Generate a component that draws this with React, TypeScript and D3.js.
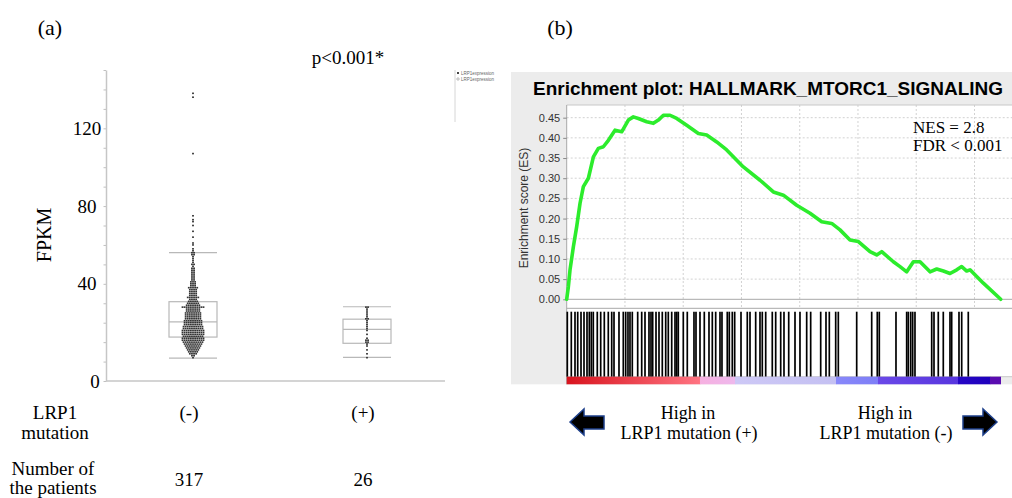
import React, { useEffect, useRef } from 'react';
import * as d3 from 'd3';

// ---- panel (a): FPKM by LRP1 mutation status
const groups = ['(-)', '(+)'];
const patients = [317, 26];
const boxQ1 = [12.6, 9.4];
const boxMedian = [20.4, 16.6];
const boxQ3 = [30.8, 21.8];
const whiskerLow = [1.8, 2.2];
const whiskerHigh = [56, 28.2];

// (-) group, FPKM level -> number of patients at that level
const negLevels = [
  2, 3, 4, 5, 6, 7, 8, 9, 10, 11, 12,
  13, 14, 15, 16, 17, 18, 19, 20,
  21, 22, 23, 24, 25, 26, 27, 28, 29, 30,
  31, 32, 33, 34, 35, 36, 37, 38, 39, 40, 41, 42, 43, 44, 45, 46, 47, 48, 49, 50, 51, 52, 53, 54, 55, 56,
];
const negCounts = [
  1, 2, 4, 5, 6, 7, 8, 9, 10, 11, 11,
  10, 11, 11, 11, 10, 10, 9, 9,
  9, 8, 8, 8, 8, 7, 7, 11, 7, 6,
  5, 4, 6, 4, 4, 4, 4, 5, 3, 3, 3, 2, 2, 2, 2, 2, 2, 2, 1, 2, 1, 1, 1, 1, 2, 2,
];
const negOutliers = [57, 58, 60, 61, 64, 67, 70, 72, 73, 75, 107, 136, 138];
// (+) group, 26 patients
const posValues = [28, 28, 27, 26, 25, 24, 23, 22, 22, 21, 20, 19, 18, 17, 16, 14, 12, 11, 11, 10, 10, 9, 8, 6, 4, 2];
const fpkmLabels = [40, 80, 120];

// ---- panel (b): GSEA enrichment plot
const esRanks = [0, 57, 114, 229, 343, 458, 572, 744, 916, 1087, 1259, 1431, 1659, 1888, 2117, 2289, 2460, 2747, 2975, 3147,
  3319, 3548, 3777, 4120, 4520, 4806, 5150, 5493, 6065, 6638, 7095, 7439, 7896, 8354, 8755, 9098, 9384, 9727, 10014, 10414,
  10643, 10815, 11215, 11444, 11673, 11902, 12131, 12474, 12703, 12932, 13161, 13390, 13561, 13733, 13847, 14305, 14900];
const esScores = [0, 0.031, 0.073, 0.13, 0.18, 0.238, 0.279, 0.30, 0.353, 0.374, 0.378, 0.394, 0.419, 0.415, 0.444, 0.452, 0.448, 0.44, 0.436, 0.444,
  0.456, 0.456, 0.448, 0.431, 0.411, 0.407, 0.39, 0.37, 0.328, 0.295, 0.266, 0.258, 0.233, 0.213, 0.192, 0.188, 0.172, 0.147, 0.143, 0.118,
  0.11, 0.118, 0.093, 0.081, 0.068, 0.093, 0.093, 0.068, 0.075, 0.07, 0.064, 0.073, 0.081, 0.07, 0.073, 0.04, 0];
const hitRanks = [21, 158, 285, 378, 491, 594, 697, 776, 845, 913, 1050, 1167, 1291, 1428, 1545, 1624, 1795, 1943, 2025, 2104,
  2173, 2252, 2437, 2575, 2688, 2825, 2894, 2952, 3066, 3169, 3282, 3399, 3488, 3605, 3718, 3776, 3831, 4003, 4140, 4370,
  4439, 4576, 4724, 4885, 4999, 5115, 5263, 5331, 5513, 5582, 5685, 5767, 5984, 6200, 6293, 6488, 6636, 6715, 6832, 7058,
  7175, 7347, 7460, 7622, 7838, 8009, 8239, 8376, 8720, 8902, 9016, 9235, 9325, 9956, 10471, 10663, 10732, 11305, 11672, 11728,
  11810, 11878, 11957, 12531, 12610, 12757, 12929, 13159, 13217, 13468, 13561, 13787];
const esTicks = [0, 0.05, 0.1, 0.15, 0.2, 0.25, 0.3, 0.35, 0.4, 0.45];
const rankGrid = [2000, 4000, 6000, 8000, 10000, 12000, 14000];
const rankMax = 14900;
// ranked-list colour bar segments
const barStart = [0, 4576, 5778, 9245, 10687, 13434, 14533];
const barEnd = [4576, 5778, 9245, 10687, 13434, 14533, 14900];
const barFrom = ['#d8141e', '#f6b0e0', '#cdc8f6', '#8888fa', '#6a48e8', '#2606c6', '#5a0cb0'];
const barTo = ['#ff7482', '#eeb8ec', '#c4c0f2', '#7e7ef6', '#5836de', '#1e00bc', '#5a0cb0'];

const W = 1012;
const H = 498;
const serif = '"Liberation Serif", "Times New Roman", serif';
const sans = '"Liberation Sans", Arial, sans-serif';

const App = () => {
  const svgRef = useRef<SVGSVGElement>(null);

  useEffect(() => {
    const svg = d3.select(svgRef.current);
    svg.selectAll('*').remove();

    svg.append('rect').attr('width', W).attr('height', H).attr('fill', 'white');

    // ================= panel (a) =================
    const yA = d3.scaleLinear().domain([-10, 150]).range([381, 70]);
    const xA = d3.scaleBand().domain(groups).range([106, 454]);
    const cx = (g: string) => (xA(g) as number) + xA.bandwidth() / 2;

    svg.append('text').attr('x', 50).attr('y', 35).attr('text-anchor', 'middle')
      .attr('font-family', serif).attr('font-size', 22).text('(a)');

    const ax = svg.append('g').attr('transform', 'translate(106,0)')
      .call(d3.axisLeft(yA).tickValues(d3.range(-10, 151, 10)).tickSize(2.5).tickSizeOuter(0).tickFormat(() => ''));
    ax.select('.domain').attr('stroke', '#c6c6c6').attr('stroke-width', 1.5);
    ax.selectAll('.tick line').attr('stroke', '#c0c0c0');

    svg.append('line').attr('x1', 106).attr('x2', 445).attr('y1', yA(-10)).attr('y2', yA(-10))
      .attr('stroke', '#c6c6c6').attr('stroke-width', 1.5);

    svg.selectAll('.ylab').data(fpkmLabels).enter().append('text')
      .attr('x', 87).attr('y', d => yA(d) + 6.5).attr('text-anchor', 'middle')
      .attr('font-family', serif).attr('font-size', 19).text(d => d);
    svg.append('text').attr('x', 95).attr('y', yA(-10) + 6.5).attr('text-anchor', 'middle')
      .attr('font-family', serif).attr('font-size', 19).text('0');

    svg.append('text').attr('transform', 'translate(51,235) rotate(-90)').attr('text-anchor', 'middle')
      .attr('font-family', serif).attr('font-size', 20).text('FPKM');

    svg.append('text').attr('x', 348).attr('y', 64).attr('text-anchor', 'middle')
      .attr('font-family', serif).attr('font-size', 19).text('p<0.001*');

    // boxes
    const boxW = 48;
    groups.forEach((g, i) => {
      const c = cx(g);
      const gb = svg.append('g').attr('stroke', '#b8b8b8').attr('stroke-width', 1.2).attr('fill', 'none');
      gb.append('rect').attr('x', c - boxW / 2).attr('y', yA(boxQ3[i]))
        .attr('width', boxW).attr('height', yA(boxQ1[i]) - yA(boxQ3[i]));
      [boxMedian[i], whiskerLow[i], whiskerHigh[i]].forEach(v => {
        gb.append('line').attr('x1', c - boxW / 2).attr('x2', c + boxW / 2).attr('y1', yA(v)).attr('y2', yA(v));
      });
    });

    // dot swarm
    const negValues: number[] = [];
    negLevels.forEach((v, i) => { for (let k = 0; k < negCounts[i]; k++) negValues.push(v); });
    negOutliers.forEach(v => negValues.push(v));
    const swarm = (vals: number[], g: string) => {
      const rows = d3.rollups(vals, v => v.length, v => v);
      const pts: { x: number; y: number }[] = [];
      rows.forEach(([v, n]) => {
        for (let k = 0; k < n; k++) pts.push({ x: cx(g) + (k - (n - 1) / 2) * 2.1, y: yA(v) });
      });
      return pts;
    };
    const dots = [...swarm(negValues, groups[0]), ...swarm(posValues, groups[1])];
    svg.append('g').selectAll('rect').data(dots).enter().append('rect')
      .attr('x', d => d.x - 0.9).attr('y', d => d.y - 0.8).attr('width', 1.8).attr('height', 1.6)
      .attr('fill', '#333');

    // tiny legend
    svg.append('line').attr('x1', 455).attr('x2', 455).attr('y1', 70).attr('y2', 122)
      .attr('stroke', '#d6d6d6').attr('stroke-width', 1);
    svg.append('rect').attr('x', 457).attr('y', 72).attr('width', 2).attr('height', 2).attr('fill', '#444');
    svg.append('circle').attr('cx', 458).attr('cy', 79).attr('r', 1.2).attr('fill', 'none').attr('stroke', '#777').attr('stroke-width', 0.5);
    ['LRP1expression', 'LRP1expression'].forEach((t, i) => {
      svg.append('text').attr('x', 461).attr('y', 75 + i * 6).attr('font-family', sans)
        .attr('font-size', 4.5).attr('fill', '#666').text(t);
    });

    // category table
    const tbl = svg.append('g').attr('font-family', serif).attr('font-size', 19).attr('text-anchor', 'middle');
    tbl.append('text').attr('x', 55).attr('y', 419).text('LRP1');
    tbl.append('text').attr('x', 55).attr('y', 439).text('mutation');
    tbl.append('text').attr('x', 53).attr('y', 475).text('Number of');
    tbl.append('text').attr('x', 53).attr('y', 494).text('the patients');
    groups.forEach((g, i) => {
      tbl.append('text').attr('x', cx(g) - 4).attr('y', 419).text(g);
      tbl.append('text').attr('x', cx(g) - 4).attr('y', 486).text(patients[i]);
    });

    // ================= panel (b) =================
    svg.append('text').attr('x', 560).attr('y', 35).attr('text-anchor', 'middle')
      .attr('font-family', serif).attr('font-size', 22).text('(b)');

    const left = 566.7;
    const top = 105;
    const esBottom = 308.3;
    const hitTop = 311.7;
    const hitBottom = 376.7;
    const barBottom = 384.3;

    svg.append('rect').attr('x', 511).attr('y', 72).attr('width', W - 511).attr('height', barBottom - 72).attr('fill', '#ececec');
    svg.append('rect').attr('x', left).attr('y', top).attr('width', W - left).attr('height', hitBottom - top).attr('fill', 'white');

    svg.append('text').attr('x', 533).attr('y', 95).attr('font-family', sans).attr('font-weight', 'bold')
      .attr('font-size', 18).attr('textLength', 470).attr('lengthAdjust', 'spacingAndGlyphs')
      .text('Enrichment plot: HALLMARK_MTORC1_SIGNALING');

    const xB = d3.scaleLinear().domain([0, rankMax]).range([left, 1000.7]);
    const yB = d3.scaleLinear().domain([-0.0223, 0.4814]).range([esBottom, top]);

    // grid
    const grid = svg.append('g').attr('stroke', '#d2d2d2').attr('stroke-width', 1).attr('stroke-dasharray', '2,2');
    esTicks.filter(t => t > 0).forEach(t => {
      grid.append('line').attr('x1', left).attr('x2', W).attr('y1', yB(t)).attr('y2', yB(t));
    });
    rankGrid.forEach(r => {
      grid.append('line').attr('x1', xB(r)).attr('x2', xB(r)).attr('y1', top).attr('y2', esBottom);
    });

    const frame = svg.append('g').attr('stroke', '#a8a8a8').attr('stroke-width', 1);
    frame.append('line').attr('x1', left).attr('x2', W).attr('y1', top).attr('y2', top).attr('stroke', '#c8c8c8');
    frame.append('line').attr('x1', left).attr('x2', W).attr('y1', yB(0)).attr('y2', yB(0));
    frame.append('line').attr('x1', left).attr('x2', W).attr('y1', esBottom).attr('y2', esBottom);
    frame.append('line').attr('x1', left).attr('x2', W).attr('y1', hitBottom).attr('y2', hitBottom).attr('stroke', '#c8c8c8');
    frame.append('line').attr('x1', left).attr('x2', left).attr('y1', top).attr('y2', barBottom);

    const ay = svg.append('g').attr('transform', `translate(${left},0)`)
      .call(d3.axisLeft(yB).tickValues(esTicks).tickFormat(d3.format('.2f')).tickSize(3.5).tickPadding(3));
    ay.select('.domain').remove();
    ay.selectAll('.tick line').attr('stroke', '#888');
    ay.selectAll('.tick text').attr('font-family', sans).attr('font-size', 11).attr('fill', '#333');

    svg.append('text').attr('transform', 'translate(528,208) rotate(-90)').attr('text-anchor', 'middle')
      .attr('font-family', sans).attr('font-size', 12).attr('fill', '#333').text('Enrichment score (ES)');

    // running ES curve
    const line = d3.line<number>().x((_, i) => xB(esRanks[i])).y(d => yB(d));
    svg.append('path').datum(esScores).attr('d', line).attr('fill', 'none')
      .attr('stroke', '#2cec2c').attr('stroke-width', 3.6).attr('stroke-linejoin', 'round').attr('stroke-linecap', 'round');

    svg.append('text').attr('x', 913).attr('y', 133).attr('font-family', serif).attr('font-size', 17).text('NES = 2.8');
    svg.append('text').attr('x', 913).attr('y', 151).attr('font-family', serif).attr('font-size', 17).text('FDR < 0.001');

    // hits
    svg.append('g').selectAll('line').data(hitRanks).enter().append('line')
      .attr('x1', d => xB(d)).attr('x2', d => xB(d)).attr('y1', hitTop).attr('y2', hitBottom)
      .attr('stroke', '#000').attr('stroke-width', 1.7);

    // ranked list colour bar
    const defs = svg.append('defs');
    barStart.forEach((s, i) => {
      const gid = `seg${i}`;
      const lg = defs.append('linearGradient').attr('id', gid);
      lg.append('stop').attr('offset', '0%').attr('stop-color', barFrom[i]);
      lg.append('stop').attr('offset', '100%').attr('stop-color', barTo[i]);
      svg.append('rect').attr('x', xB(s)).attr('y', hitBottom).attr('width', xB(barEnd[i]) - xB(s) + 0.3)
        .attr('height', barBottom - hitBottom).attr('fill', `url(#${gid})`);
    });

    // arrows + captions
    const arrowL = [[570, 422], [584, 409], [584, 416], [604, 416], [604, 429], [584, 429], [584, 435]];
    const arrowR = arrowL.map(([x, y]) => [1567 - x, y]);
    [arrowL, arrowR].forEach(p => {
      svg.append('polygon').attr('points', p.map(q => q.join(',')).join(' '))
        .attr('fill', '#000').attr('stroke', '#1d3f8a').attr('stroke-width', 1.5).attr('stroke-linejoin', 'miter');
    });
    const cap = svg.append('g').attr('font-family', serif).attr('font-size', 18).attr('text-anchor', 'middle');
    cap.append('text').attr('x', 688).attr('y', 419).text('High in');
    cap.append('text').attr('x', 689).attr('y', 439).text('LRP1 mutation (+)');
    cap.append('text').attr('x', 885).attr('y', 419).text('High in');
    cap.append('text').attr('x', 886).attr('y', 439).text('LRP1 mutation (-)');
  }, []);

  return (
    <svg ref={svgRef} width={W} height={H}
      style={{ position: 'absolute', left: 0, top: 0, display: 'block' }} />
  );
};

export default App;
